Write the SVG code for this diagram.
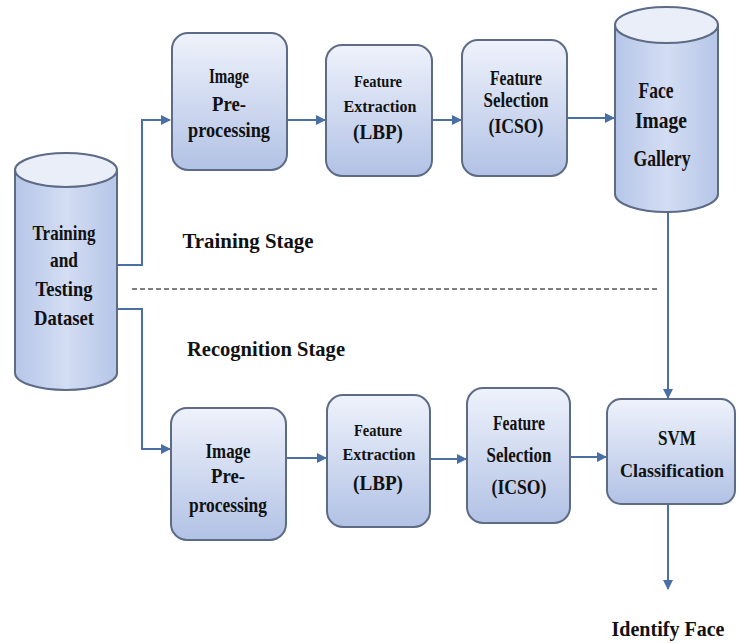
<svg xmlns="http://www.w3.org/2000/svg" width="747" height="643" viewBox="0 0 747 643">
<defs>
<linearGradient id="boxg" x1="0" y1="0" x2="0" y2="1">
<stop offset="0" stop-color="#eef2fb"/>
<stop offset="1" stop-color="#b2c2e5"/>
</linearGradient>
<linearGradient id="cylg" x1="0" y1="0" x2="1" y2="0">
<stop offset="0" stop-color="#b6c6e8"/>
<stop offset="0.5" stop-color="#d3ddf3"/>
<stop offset="1" stop-color="#b6c6e8"/>
</linearGradient>
<marker id="arr" viewBox="0 0 10 10" refX="9" refY="5" markerWidth="5" markerHeight="5" orient="auto" markerUnits="strokeWidth">
<path d="M0,0 L10,5 L0,10 Z" fill="#4a6fa5"/>
</marker>
</defs>
<style>
.box{fill:url(#boxg);stroke:#5d6b86;stroke-width:2}
.cyl{fill:url(#cylg);stroke:#5d6b86;stroke-width:2}
.cyltop{fill:#e9eef9;stroke:#5d6b86;stroke-width:2}
.t{font-family:"Liberation Serif",serif;font-weight:bold;fill:#111;text-anchor:middle}
.c{fill:none;stroke:#4a6fa5;stroke-width:2}
.dash{fill:none;stroke:#555;stroke-width:1.5;stroke-dasharray:5 3}
</style>
<rect width="747" height="643" fill="#ffffff"/>

<g id="connectors">
<path class="c" d="M117,265 H142 V120 H170" marker-end="url(#arr)"/>
<path class="c" d="M117,309 H142 V449 H170" marker-end="url(#arr)"/>
<path class="c" d="M287,120 H325" marker-end="url(#arr)"/>
<path class="c" d="M432,120 H461" marker-end="url(#arr)"/>
<path class="c" d="M567,118 H614" marker-end="url(#arr)"/>
<path class="c" d="M668,212 V398" marker-end="url(#arr)"/>
<path class="c" d="M286,458 H326" marker-end="url(#arr)"/>
<path class="c" d="M430,459 H466" marker-end="url(#arr)"/>
<path class="c" d="M570,457 H606" marker-end="url(#arr)"/>
<path class="c" d="M668,504 V589" marker-end="url(#arr)"/>
<path class="dash" d="M132,289 H657"/>
</g>

<g id="dataset">
<path class="cyl" d="M15,170 V373 A51,17 0 0 0 117,373 V170 Z"/>
<ellipse class="cyltop" cx="66" cy="170" rx="51" ry="17"/>
<text class="t" x="64" y="240" font-size="21" textLength="63" lengthAdjust="spacingAndGlyphs">Training</text>
<text class="t" x="64" y="267" font-size="21" textLength="28" lengthAdjust="spacingAndGlyphs">and</text>
<text class="t" x="64" y="296" font-size="21" textLength="57" lengthAdjust="spacingAndGlyphs">Testing</text>
<text class="t" x="64" y="325" font-size="21" textLength="60" lengthAdjust="spacingAndGlyphs">Dataset</text>
</g>

<g id="pre1">
<rect class="box" x="172" y="33" width="115" height="137" rx="16"/>
<text class="t" x="229" y="83" font-size="22" textLength="40" lengthAdjust="spacingAndGlyphs">Image</text>
<text class="t" x="229" y="111" font-size="22" textLength="34" lengthAdjust="spacingAndGlyphs">Pre-</text>
<text class="t" x="229" y="137" font-size="22" textLength="82" lengthAdjust="spacingAndGlyphs">processing</text>
</g>

<g id="fe1">
<rect class="box" x="326" y="45" width="106" height="131" rx="16"/>
<text class="t" x="378" y="87" font-size="16" textLength="48" lengthAdjust="spacingAndGlyphs">Feature</text>
<text class="t" x="380" y="112" font-size="16" textLength="73" lengthAdjust="spacingAndGlyphs">Extraction</text>
<text class="t" x="378" y="139" font-size="22" textLength="50" lengthAdjust="spacingAndGlyphs">(LBP)</text>
</g>

<g id="fs1">
<rect class="box" x="462" y="40" width="105" height="136" rx="16"/>
<text class="t" x="516" y="85" font-size="20" textLength="52" lengthAdjust="spacingAndGlyphs">Feature</text>
<text class="t" x="516" y="107" font-size="20" textLength="65" lengthAdjust="spacingAndGlyphs">Selection</text>
<text class="t" x="516" y="133" font-size="22" textLength="55" lengthAdjust="spacingAndGlyphs">(ICSO)</text>
</g>

<g id="gallery">
<path class="cyl" d="M615,25 V194 A51.5,18 0 0 0 718,194 V25 Z"/>
<ellipse class="cyltop" cx="666.5" cy="25" rx="51.5" ry="18"/>
<text class="t" x="656" y="98" font-size="23" textLength="35" lengthAdjust="spacingAndGlyphs">Face</text>
<text class="t" x="661" y="128" font-size="23" textLength="52" lengthAdjust="spacingAndGlyphs">Image</text>
<text class="t" x="662" y="166" font-size="23" textLength="57" lengthAdjust="spacingAndGlyphs">Gallery</text>
</g>

<text class="t" x="248" y="248" font-size="21" textLength="131" lengthAdjust="spacingAndGlyphs">Training Stage</text>
<text class="t" x="266" y="356" font-size="21" textLength="158" lengthAdjust="spacingAndGlyphs">Recognition Stage</text>

<g id="pre2">
<rect class="box" x="171" y="408" width="115" height="132" rx="16"/>
<text class="t" x="228" y="458" font-size="22" textLength="45" lengthAdjust="spacingAndGlyphs">Image</text>
<text class="t" x="228" y="483" font-size="22" textLength="34" lengthAdjust="spacingAndGlyphs">Pre-</text>
<text class="t" x="228" y="512" font-size="22" textLength="78" lengthAdjust="spacingAndGlyphs">processing</text>
</g>

<g id="fe2">
<rect class="box" x="327" y="395" width="103" height="132" rx="16"/>
<text class="t" x="378" y="436" font-size="16" textLength="48" lengthAdjust="spacingAndGlyphs">Feature</text>
<text class="t" x="379" y="460" font-size="16" textLength="73" lengthAdjust="spacingAndGlyphs">Extraction</text>
<text class="t" x="378" y="490" font-size="22" textLength="50" lengthAdjust="spacingAndGlyphs">(LBP)</text>
</g>

<g id="fs2">
<rect class="box" x="467" y="388" width="103" height="135" rx="16"/>
<text class="t" x="519" y="430" font-size="20" textLength="52" lengthAdjust="spacingAndGlyphs">Feature</text>
<text class="t" x="519" y="462" font-size="20" textLength="65" lengthAdjust="spacingAndGlyphs">Selection</text>
<text class="t" x="519" y="494" font-size="22" textLength="55" lengthAdjust="spacingAndGlyphs">(ICSO)</text>
</g>

<g id="svm">
<rect class="box" x="607" y="399" width="128" height="105" rx="14"/>
<text class="t" x="677" y="445" font-size="22" textLength="38" lengthAdjust="spacingAndGlyphs">SVM</text>
<text class="t" x="672" y="477" font-size="19" textLength="104" lengthAdjust="spacingAndGlyphs">Classification</text>
</g>

<text class="t" x="668" y="636" font-size="22" textLength="113" lengthAdjust="spacingAndGlyphs">Identify Face</text>
</svg>
